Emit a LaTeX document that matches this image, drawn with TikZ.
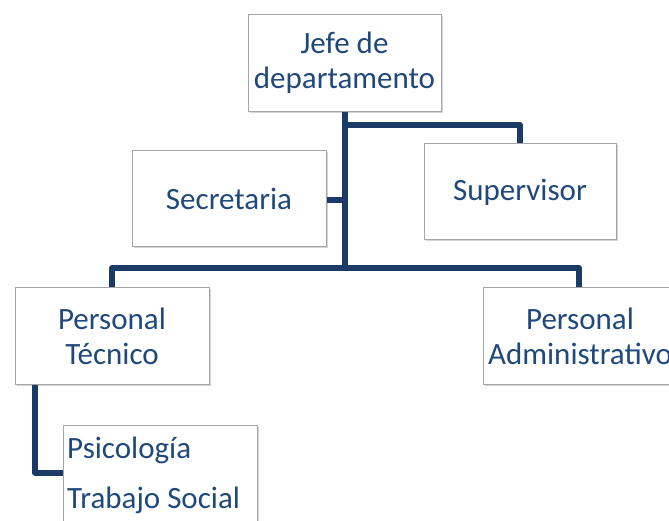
\documentclass[tikz,border=0pt]{standalone}
\usepackage{fontspec}
\setmainfont{Carlito}
\usetikzlibrary{positioning,shadows}
\definecolor{linecol}{RGB}{28,58,102}
\definecolor{textcol}{RGB}{31,73,125}
\tikzset{
    orgbox/.style={draw=gray!70, fill=white, line width=1pt, align=center,
        minimum width=194pt, minimum height=96pt, inner sep=0pt,
        text=textcol, font=\fontsize{31pt}{35pt}\selectfont,
        drop shadow={shadow xshift=1.5pt, shadow yshift=-1.5pt, opacity=0.35}},
    orgline/.style={draw=linecol, line width=6pt, line join=round}
}
\begin{document}
\begin{tikzpicture}[x=1pt, y=-1pt]
    \useasboundingbox (0,0) rectangle (669,521);
    \begin{scope}
    \clip (0,0) rectangle (669,521);
    \node[orgbox, minimum width=193pt, minimum height=97pt] (jefe) at (344.5,63) {Jefe de\\departamento};
    \node[orgbox] (secre) at (229,199) {Secretaria};
    \node[orgbox, minimum width=192pt] (super) at (520,192) {Supervisor};
    \node[orgbox] (tecn) at (112,336) {Personal\\Técnico};
    \node[orgbox] (admin) at (580,336) {Personal\\Administrativo};
    \node[orgbox, minimum height=110pt, anchor=north west] (psico) at (63,425) {};
    \node[text=textcol, font=\fontsize{31pt}{35pt}\selectfont, inner sep=0pt, anchor=base west] (psicol) at (67,458) {Psicología};
    \node[text=textcol, font=\fontsize{31pt}{35pt}\selectfont, inner sep=0pt, anchor=base west] (trabs) at (67,508) {Trabajo Social};
    % connectors
    \coordinate (bar) at (345.5,268);
    \draw[orgline] (jefe.south) -- (jefe.south |- bar);
    \draw[orgline] ([yshift=-13pt]jefe.south) -| (super.north);
    \draw[orgline] ([yshift=-1pt]secre.east) -- ([yshift=-1pt]secre.east -| jefe.south);
    \draw[orgline] (tecn.north) |- (bar) -| ([xshift=-1pt]admin.north);
    \draw[orgline] ([xshift=-77pt]tecn.south) |- ([yshift=-47.5pt]psico.north west);
    \end{scope}
\end{tikzpicture}
\end{document}
